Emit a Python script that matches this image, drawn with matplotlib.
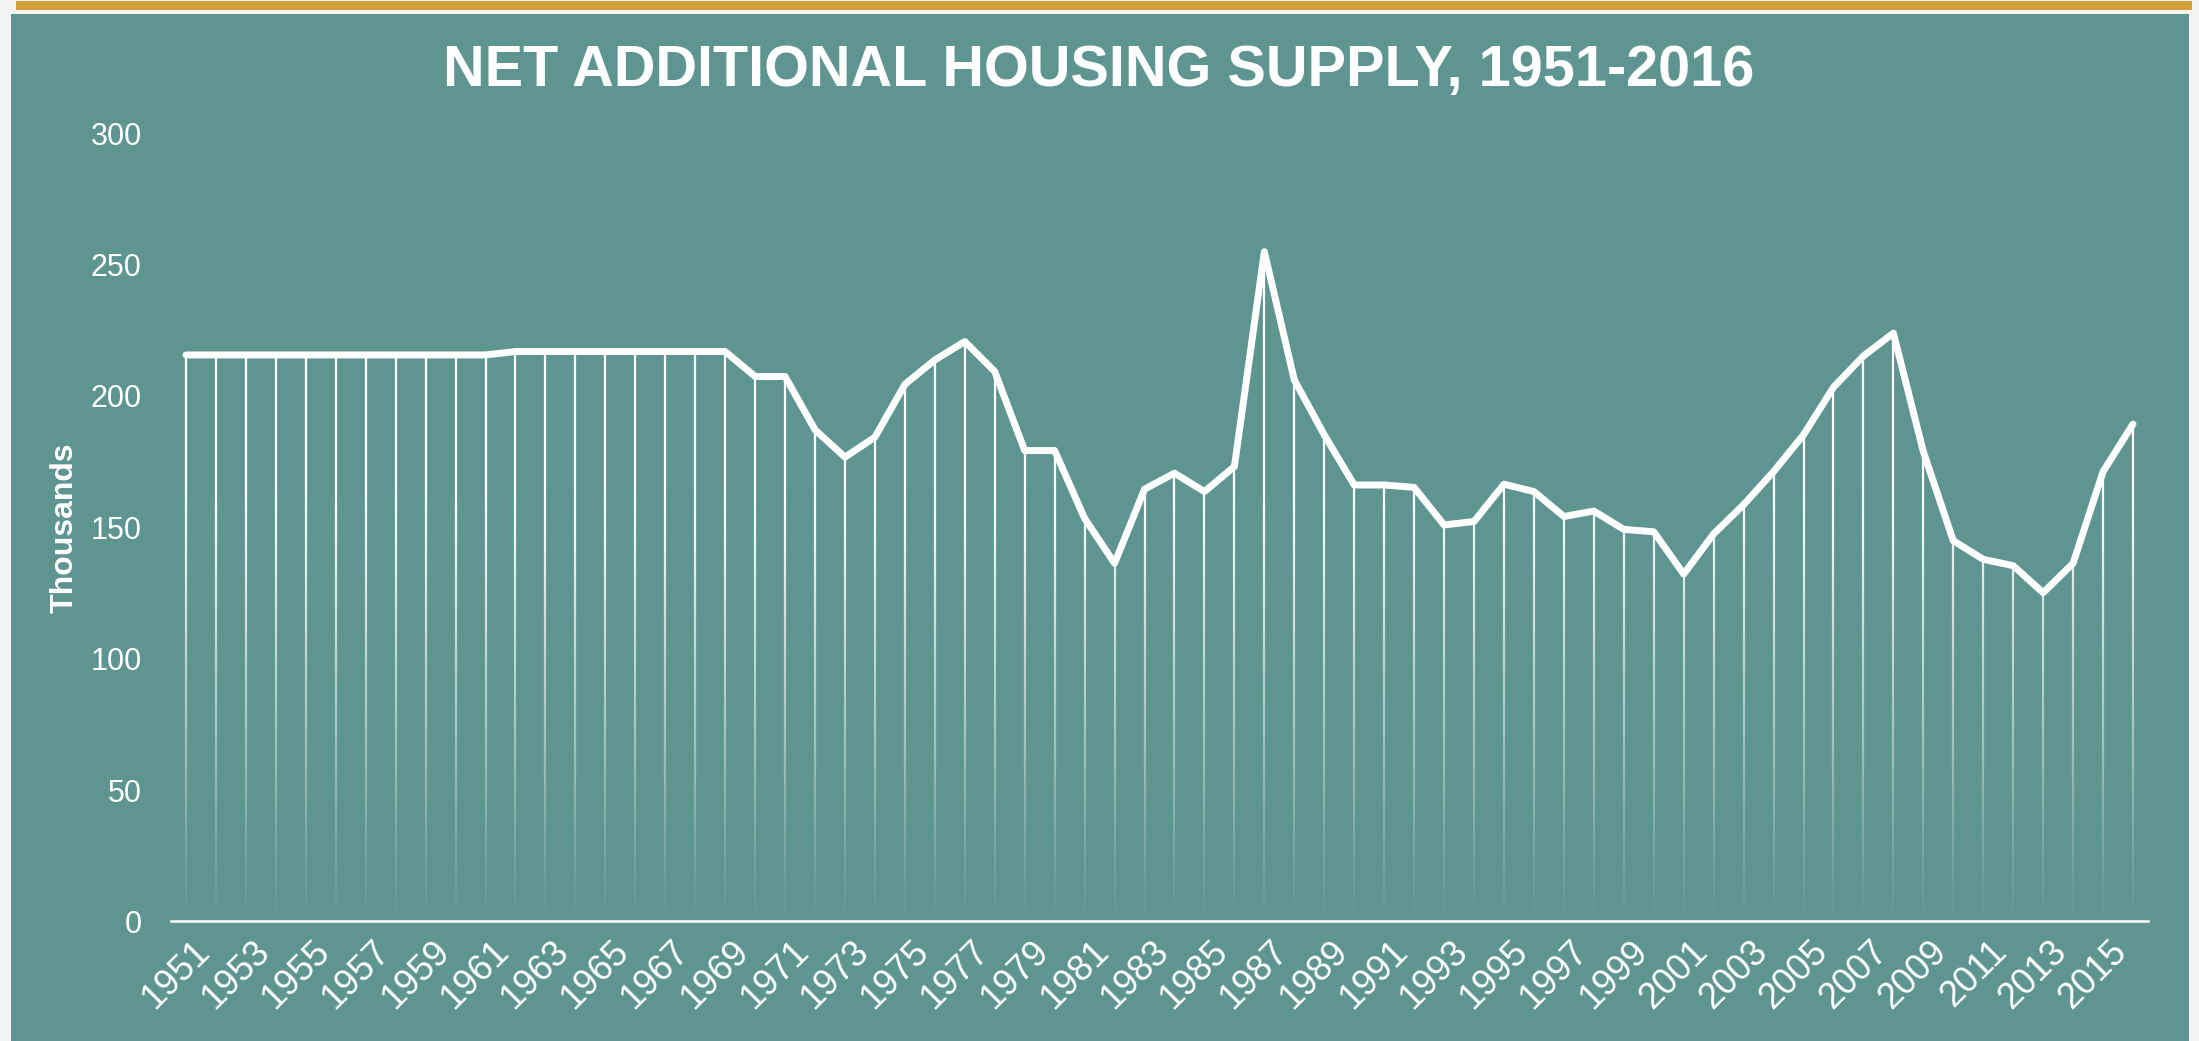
import numpy as np
import matplotlib
matplotlib.use("Agg")
import matplotlib.pyplot as plt
import matplotlib.transforms as mtransforms
from matplotlib.collections import LineCollection
from matplotlib.patches import Rectangle

# net additional dwellings, thousands
years = list(range(1951, 2017))
supply = [
    215.6, 215.6, 215.6, 215.6, 215.6, 215.6, 215.6, 215.6, 215.6, 215.6,  # 1951-60
    215.6, 216.9, 216.9, 216.9, 216.9, 216.9, 216.9, 216.9, 216.9, 207.4,  # 1961-70
    207.4, 187.1, 176.7, 184.3, 204.4, 213.7, 220.7, 209.3, 179.2, 179.2,  # 1971-80
    153.4, 136.3, 164.5, 170.6, 163.6, 173.1, 254.9, 206.1, 185.2, 166.1,  # 1981-90
    166.1, 165.2, 150.9, 152.2, 166.4, 163.6, 154.1, 156.2, 149.2, 148.3,  # 1991-2000
    132.2, 147.5, 158.6, 171.2, 185.2, 203.3, 215.2, 223.9, 178.8, 144.9,  # 2001-10
    137.8, 135.4, 125.1, 136.3, 171.2, 189.3,                              # 2011-16
]
yticks = [0, 50, 100, 150, 200, 250, 300]

teal = "#5e9591"
gold = "#d4a03a"

fig = plt.figure(figsize=(21.99, 10.41), dpi=100, facecolor="#f4f4f2")

# background panel + gold strip
fig.patches.append(Rectangle((11 / 2199, 0), (2189 - 11) / 2199, 1 - 14 / 1041,
                             transform=fig.transFigure, facecolor=teal, zorder=-10))
fig.patches.append(Rectangle((16 / 2199, 1 - 9.5 / 1041), (2192 - 16) / 2199, 8.5 / 1041,
                             transform=fig.transFigure, facecolor=gold, zorder=-10))

ax = fig.add_axes([171 / 2199, 1 - 921.4 / 1041, (2148 - 171) / 2199, (921.4 - 133.2) / 1041])
ax.set_facecolor("none")
ax.set_zorder(5)

x = np.arange(len(years))
vals = np.array(supply)

# drop lines, fading out towards the axis
segs, cols = [], []
for xi, v in zip(x, vals):
    ys = np.linspace(0, v, 80)
    for y0, y1 in zip(ys[:-1], ys[1:]):
        segs.append([(xi, y0), (xi, y1)])
        a = min(1.0, ((y0 + y1) / 2) / 165.0)
        cols.append((1, 1, 1, a))
ax.add_collection(LineCollection(segs, colors=cols, linewidths=1.6, capstyle="butt"))

ax.plot(x, vals, color="white", lw=5, solid_joinstyle="round",
        solid_capstyle="round", zorder=3)

ax.set_xlim(-0.5, len(years) - 0.5)
ax.set_ylim(0, 300)
ax.set_yticks(yticks)
ax.set_xticks(x[::2])
ax.set_xticklabels([str(y) for y in years[::2]], rotation=45, ha="right",
                   va="top", rotation_mode="anchor")

for s in ["top", "right", "left"]:
    ax.spines[s].set_visible(False)
ax.spines["bottom"].set_color("white")
ax.spines["bottom"].set_linewidth(1.8)
ax.tick_params(axis="both", length=0, colors="white",
               labelfontfamily="Liberation Sans")
ax.tick_params(axis="y", labelsize=22, pad=21)
ax.tick_params(axis="x", labelsize=26, pad=9)

# nudge the rotated year labels a little to the right
shift = mtransforms.ScaledTranslation(6 / 100, 0, fig.dpi_scale_trans)
for lab in ax.get_xticklabels():
    lab.set_transform(lab.get_transform() + shift)

fig.text(64.5 / 2199, 1 - 528 / 1041, "Thousands", color="white", fontsize=23,
         fontweight="bold", family="Liberation Sans", rotation=90,
         ha="center", va="center")

fig.text(1099 / 2199, 1 - 86 / 1041, "NET ADDITIONAL HOUSING SUPPLY, 1951-2016",
         color="white", fontsize=41.5, fontweight="bold", family="Liberation Sans",
         ha="center", va="baseline")

fig.savefig("out.png", dpi=100, facecolor=fig.get_facecolor())
